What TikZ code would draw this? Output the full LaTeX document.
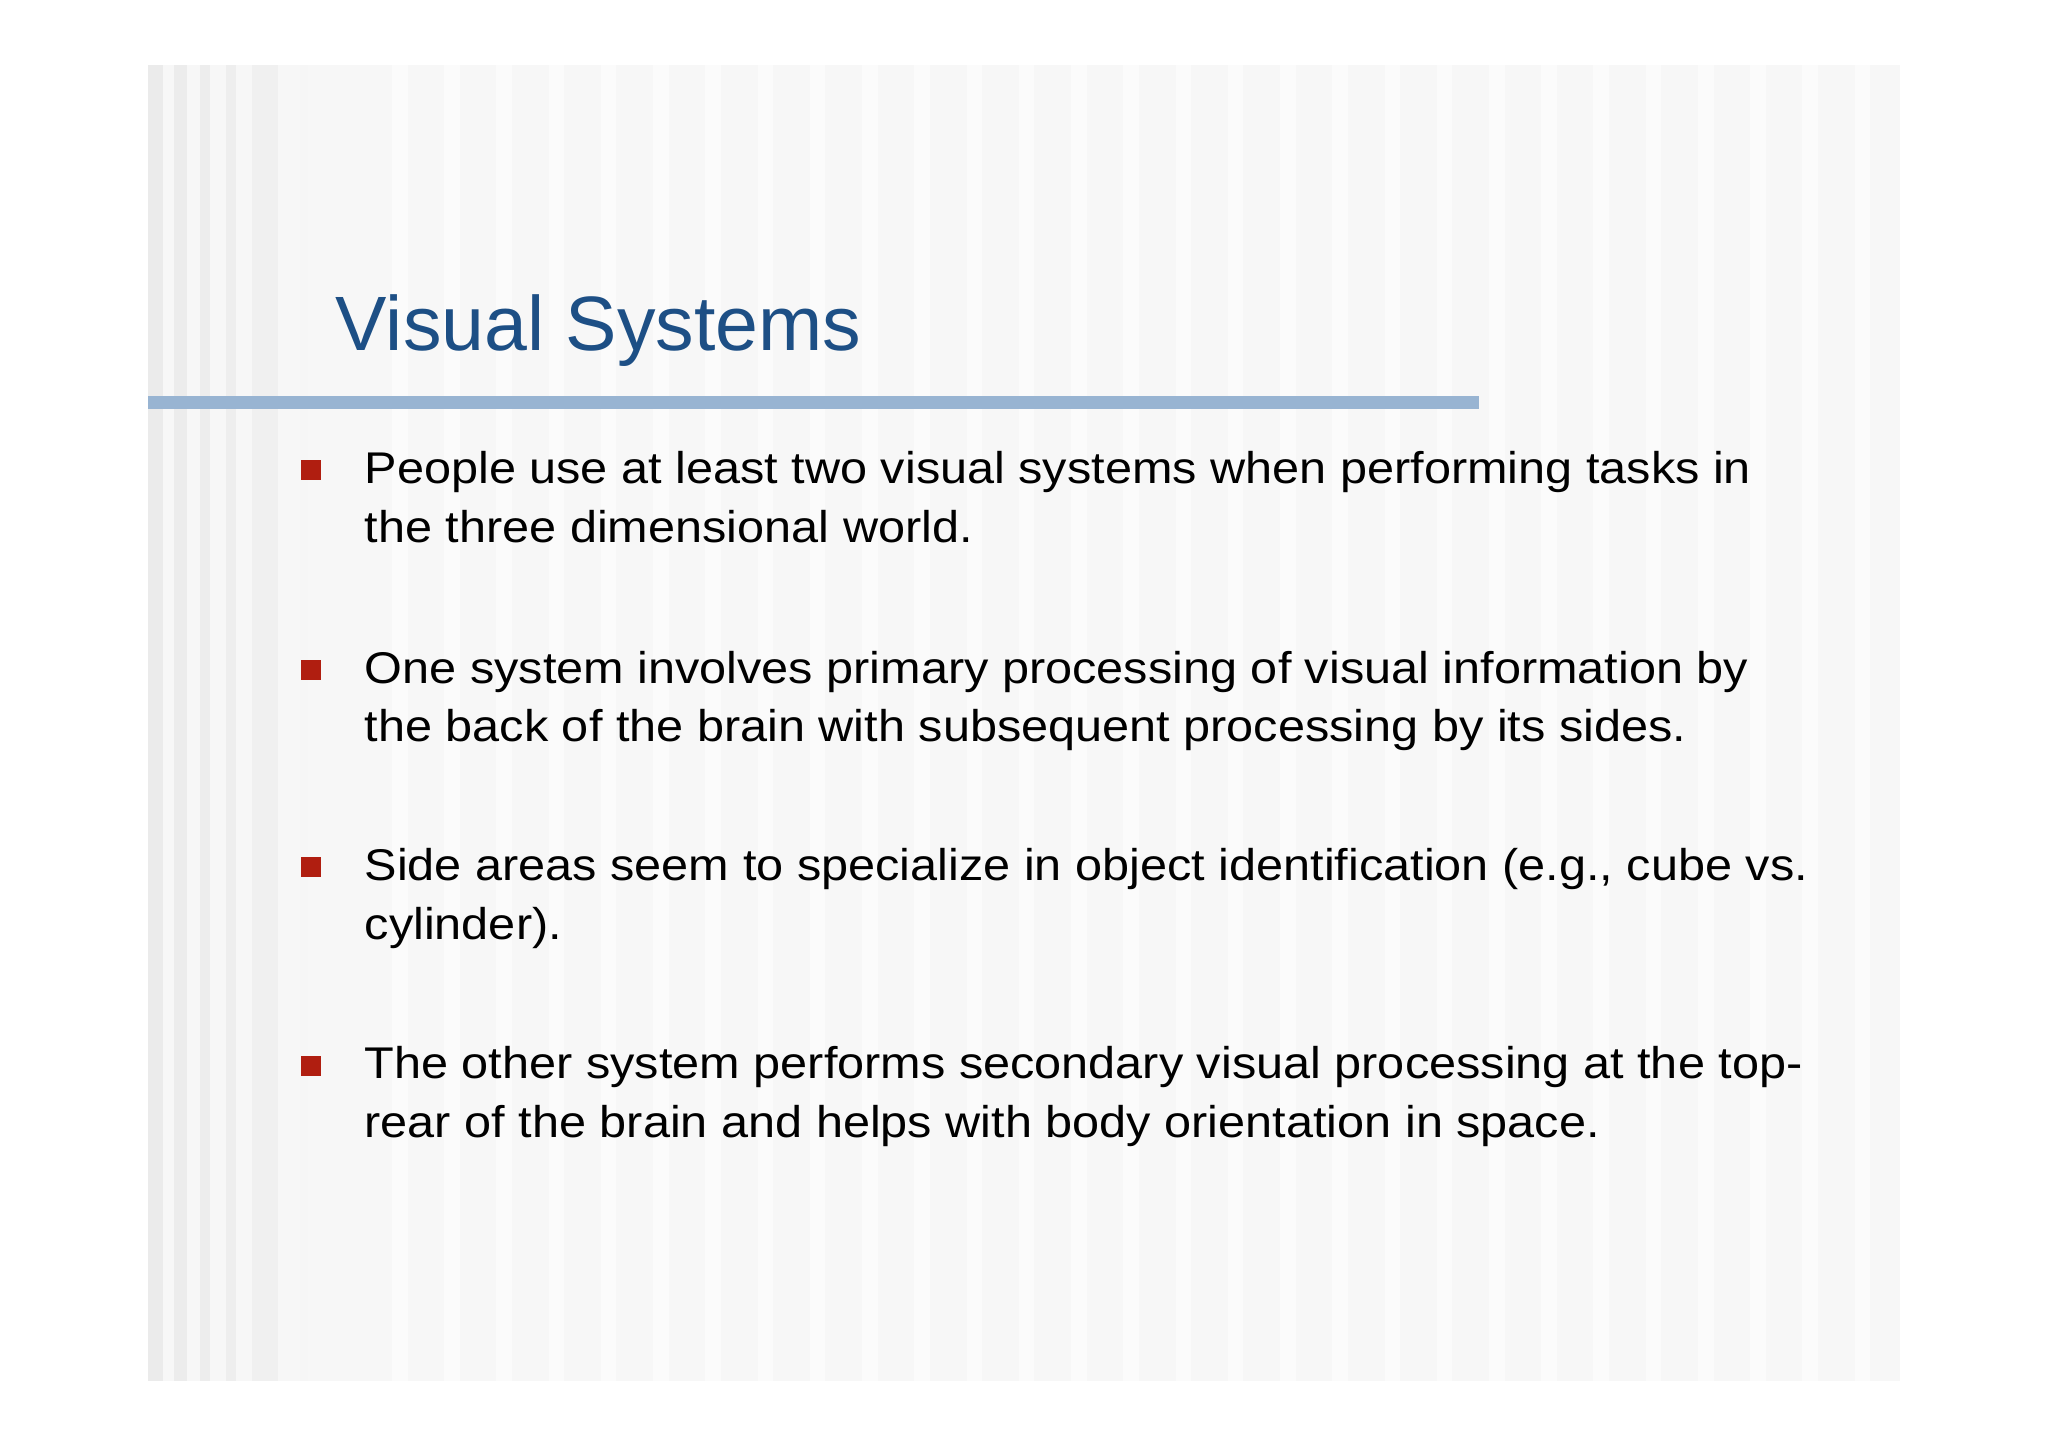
\documentclass[tikz,border=0pt]{standalone}
\usepackage{fontspec}
\setmainfont{Liberation Sans}
\definecolor{ttl}{HTML}{1D4F85}
\definecolor{rulebar}{HTML}{98B4D2}
\definecolor{bul}{HTML}{B01E10}
\begin{document}
\begin{tikzpicture}[x=1pt,y=-1pt,
  body/.style={anchor=base west,font=\fontsize{34}{40}\selectfont,inner sep=0pt,text=black,xscale=1.095,transform shape},
  bulletsq/.style={fill=bul,minimum size=15pt,inner sep=0pt,draw=none}]
\useasboundingbox (0,0) rectangle (1568,1107);
\fill[white] (0,0) rectangle (1568,1107);
\fill[gray!6] (113,50) rectangle (1455,1057);
\foreach \x/\w/\c in {113/12/16,133/10/15,153/8/14,173/8/13,193/20/12,230/6/7,260/6/6}
  \fill[gray!\c] (\x,50) rectangle (\x+\w,1057);
\foreach \x in {300,340,380,420,460,500,540,580,620,660,700,740,780,820,860,900,940,980,1020,1060,1100,1140,1180,1220,1260,1300,1340,1380,1420}
  \fill[gray!3] (\x,50) rectangle (\x+12,1057);
\node[anchor=base west,inner sep=0pt,text=ttl,font=\fontsize{59}{70}\selectfont] (title) at (257,268) {Visual Systems};
\fill[rulebar] (113,303) rectangle (1132,313);
\node[bulletsq] (b1) at (238,360) {};
\node[bulletsq] (b2) at (238,513) {};
\node[bulletsq] (b3) at (238,664) {};
\node[bulletsq] (b4) at (238,816) {};
\node[body] (t1a) at (279,370) {People use at least two visual systems when performing tasks in};
\node[body] (t1b) at (279,415) {the three dimensional world.};
\node[body] (t2a) at (279,523) {One system involves primary processing of visual information by};
\node[body] (t2b) at (279,568) {the back of the brain with subsequent processing by its sides.};
\node[body] (t3a) at (279,674) {Side areas seem to specialize in object identification (e.g., cube vs.};
\node[body] (t3b) at (279,719) {cylinder).};
\node[body] (t4a) at (279,826) {The other system performs secondary visual processing at the top-};
\node[body] (t4b) at (279,871) {rear of the brain and helps with body orientation in space.};
\end{tikzpicture}
\end{document}
